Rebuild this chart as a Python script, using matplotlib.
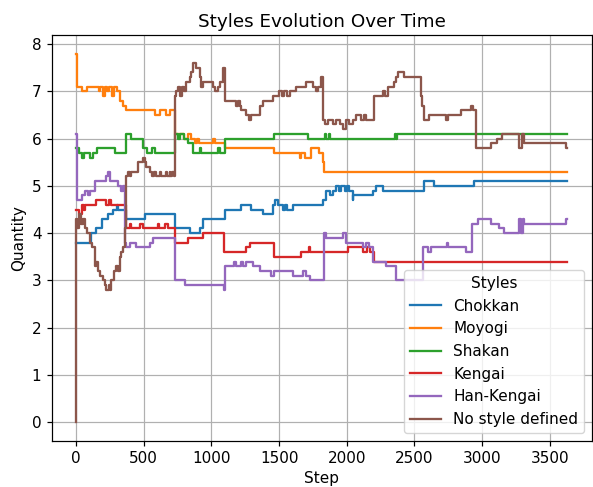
import matplotlib
matplotlib.use("Agg")
import matplotlib.pyplot as plt

# (step, quantity) change points for each style, held until the next change
chokkan = [(0, 3.8), (113, 4.0), (150, 4.1), (190, 4.3), (237, 4.4), (273, 4.5), (300, 4.6), (310, 4.5),
           (372, 4.3), (507, 4.4), (728, 4.1), (839, 4.0), (913, 4.1), (937, 4.3), (1097, 4.5), (1221, 4.6),
           (1294, 4.5), (1380, 4.4), (1454, 4.6), (1470, 4.7), (1490, 4.6), (1528, 4.5), (1545, 4.6),
           (1560, 4.5), (1602, 4.6), (1823, 4.7), (1848, 4.9), (1880, 4.8), (1900, 4.9), (1922, 5.0),
           (1945, 4.9), (1960, 5.0), (1985, 4.9), (2000, 5.0), (2020, 4.9), (2044, 4.7), (2050, 4.8),
           (2192, 4.9), (2217, 5.0), (2266, 4.9), (2573, 5.1), (2647, 5.0), (2942, 5.1), (3630, 5.1)]

moyogi = [(0, 7.8), (3, 7.1), (40, 7.0), (81, 7.1), (170, 7.0), (180, 7.1), (195, 6.9), (210, 7.1),
          (225, 7.0), (245, 7.1), (265, 6.9), (280, 7.1), (300, 7.0), (322, 6.8), (347, 6.7), (372, 6.6),
          (581, 6.5), (618, 6.6), (667, 6.5), (691, 6.6), (728, 6.1), (800, 6.0), (827, 6.1), (851, 6.0),
          (880, 5.9), (890, 6.0), (905, 5.9), (1011, 6.0), (1030, 5.9), (1097, 5.8), (1466, 5.7),
          (1651, 5.6), (1665, 5.7), (1690, 5.6), (1737, 5.8), (1798, 5.7), (1823, 5.5), (1835, 5.3),
          (3630, 5.3)]

shakan = [(0, 5.8), (24, 5.7), (40, 5.6), (57, 5.7), (106, 5.6), (122, 5.7), (155, 5.8), (290, 5.7),
          (370, 6.1), (409, 6.0), (495, 5.8), (525, 5.7), (557, 5.8), (581, 5.7), (728, 6.1), (750, 6.0),
          (765, 6.1), (800, 6.0), (827, 5.9), (864, 5.7), (913, 5.8), (925, 5.7), (1050, 5.8), (1061, 5.7),
          (1097, 6.0), (1466, 6.1), (1712, 6.0), (1843, 6.1), (1850, 6.0), (1872, 6.1), (1880, 6.0),
          (2354, 6.1), (2362, 6.0), (2372, 6.1), (3630, 6.1)]

kengai = [(0, 4.5), (20, 4.4), (40, 4.6), (55, 4.5), (64, 4.6), (150, 4.7), (224, 4.6), (240, 4.7),
          (261, 4.6), (372, 4.1), (396, 4.2), (405, 4.1), (470, 4.2), (495, 4.1), (605, 4.2), (612, 4.1),
          (655, 4.2), (679, 4.1), (728, 3.8), (827, 3.9), (937, 4.0), (1090, 3.6), (1257, 3.7),
          (1282, 3.8), (1460, 3.5), (1663, 3.6), (1720, 3.7), (1728, 3.6), (2007, 3.7), (2118, 3.6),
          (2150, 3.7), (2170, 3.6), (2205, 3.4), (3630, 3.4)]

han_kengai = [(0, 6.1), (3, 4.7), (40, 4.8), (64, 4.9), (90, 4.8), (105, 4.9), (138, 5.1), (224, 5.2),
              (236, 5.3), (249, 5.1), (310, 5.0), (330, 4.9), (345, 5.0), (359, 3.8), (372, 3.7),
              (396, 3.8), (446, 3.7), (544, 3.8), (568, 3.9), (728, 3.0), (802, 2.9), (1090, 2.8),
              (1097, 3.3), (1170, 3.4), (1180, 3.3), (1221, 3.4), (1230, 3.3), (1257, 3.4), (1306, 3.3),
              (1356, 3.2), (1442, 3.1), (1466, 3.2), (1602, 3.1), (1675, 3.2), (1700, 3.1), (1725, 3.0),
              (1831, 4.0), (1848, 3.9), (1970, 4.0), (1995, 3.8), (2118, 3.7), (2143, 3.8), (2167, 3.7),
              (2192, 3.4), (2291, 3.3), (2365, 3.0), (2561, 3.7), (2600, 3.6), (2620, 3.7), (2740, 3.8),
              (2750, 3.7), (2880, 3.6), (2925, 4.2), (2967, 4.3), (3066, 4.2), (3127, 4.1), (3164, 4.0),
              (3270, 4.3), (3290, 4.0), (3300, 4.3), (3311, 4.2), (3620, 4.3), (3630, 4.3)]

no_style = [(0, 0.0), (2, 4.3), (10, 4.1), (20, 4.4), (35, 4.2), (50, 4.3), (64, 4.1), (80, 4.0),
            (101, 3.8), (120, 3.7), (138, 3.3), (150, 3.4), (162, 3.2), (180, 3.1), (199, 3.0), (215, 2.9),
            (224, 2.8), (240, 2.9), (250, 2.8), (261, 3.0), (280, 3.2), (298, 3.3), (310, 3.2), (322, 3.5),
            (335, 3.6), (347, 3.7), (359, 4.1), (365, 5.1), (372, 5.2), (385, 5.3), (400, 5.2), (409, 5.3),
            (458, 5.5), (495, 5.6), (510, 5.5), (520, 5.4), (544, 5.3), (560, 5.2), (575, 5.3), (593, 5.2),
            (618, 5.3), (625, 5.2), (667, 5.3), (672, 5.2), (691, 5.3), (697, 5.2), (710, 5.3), (720, 5.2),
            (728, 6.9), (740, 7.0), (753, 7.1), (770, 6.9), (785, 7.1), (800, 7.0), (815, 7.2), (839, 7.3),
            (850, 7.4), (864, 7.6), (888, 7.5), (913, 7.3), (925, 7.1), (937, 7.2), (1011, 7.1), (1030, 7.0),
            (1045, 7.1), (1061, 7.2), (1085, 7.5), (1097, 6.8), (1184, 6.7), (1200, 6.8), (1210, 6.7),
            (1220, 6.6), (1258, 6.5), (1275, 6.4), (1294, 6.5), (1356, 6.7), (1380, 6.8), (1454, 6.9),
            (1503, 7.0), (1520, 6.9), (1540, 7.0), (1560, 6.9), (1577, 7.0), (1627, 7.1), (1700, 7.2),
            (1749, 7.1), (1770, 7.0), (1790, 7.1), (1811, 7.3), (1823, 6.4), (1840, 6.3), (1860, 6.4),
            (1897, 6.3), (1922, 6.4), (1950, 6.3), (1971, 6.2), (1996, 6.4), (2020, 6.3), (2044, 6.4),
            (2069, 6.5), (2106, 6.4), (2131, 6.5), (2143, 6.4), (2204, 6.9), (2266, 7.0), (2280, 6.9),
            (2303, 7.1), (2352, 7.2), (2365, 7.3), (2377, 7.4), (2426, 7.3), (2549, 6.9), (2560, 6.7),
            (2573, 6.4), (2610, 6.5), (2734, 6.4), (2745, 6.5), (2844, 6.6), (2918, 6.7), (2930, 6.6),
            (2955, 5.8), (3066, 5.9), (3114, 6.0), (3151, 6.1), (3275, 5.8), (3299, 6.1), (3311, 5.9),
            (3620, 5.8), (3630, 5.8)]

series = [("Chokkan", chokkan), ("Moyogi", moyogi), ("Shakan", shakan),
          ("Kengai", kengai), ("Han-Kengai", han_kengai), ("No style defined", no_style)]

# everything drawn ~10% larger than the defaults
plt.rcParams["font.size"] = 11
plt.rcParams["axes.titlesize"] = 13.2
plt.rcParams["lines.linewidth"] = 1.65
plt.rcParams["axes.linewidth"] = 0.88
plt.rcParams["grid.linewidth"] = 0.88
plt.rcParams["xtick.major.width"] = 0.88
plt.rcParams["ytick.major.width"] = 0.88
plt.rcParams["xtick.major.size"] = 3.85
plt.rcParams["ytick.major.size"] = 3.85

fig = plt.figure(figsize=(5.93, 4.87), dpi=100)
ax = fig.add_axes([0.087, 0.095, 0.911, 0.833])

for name, pts in series:
    steps = [p[0] for p in pts]
    vals = [p[1] for p in pts]
    ax.plot(steps, vals, drawstyle="steps-post", label=name)

ax.set_title("Styles Evolution Over Time")
ax.set_xlabel("Step")
ax.set_ylabel("Quantity")
ax.grid(True)
ax.legend(title="Styles", loc="lower right")

fig.savefig("out.png", dpi=100)
